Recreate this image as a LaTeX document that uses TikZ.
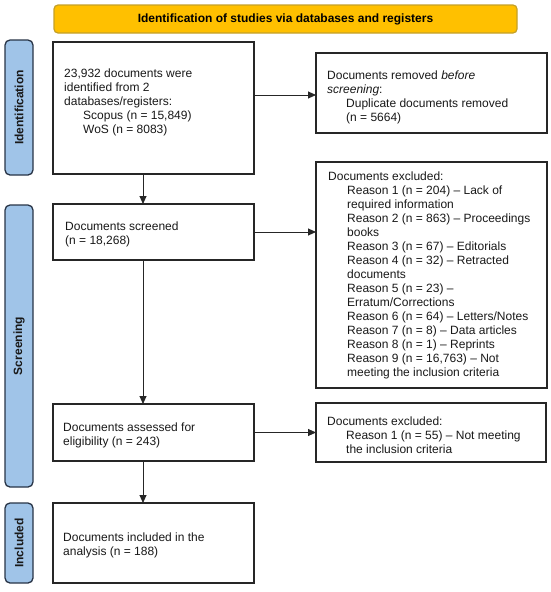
\documentclass[tikz,border=0pt]{standalone}
\usepackage{fontspec}
\setmainfont{Liberation Sans}
\usetikzlibrary{arrows.meta,calc}
\definecolor{bannerfill}{RGB}{255,192,0}
\definecolor{bannerdraw}{RGB}{196,160,40}
\definecolor{barfill}{RGB}{160,196,232}
\definecolor{bardraw}{RGB}{40,52,70}
\definecolor{txtcol}{RGB}{25,25,25}
\newcommand{\myind}{\hspace*{19pt}}
\begin{document}
\begin{tikzpicture}[x=1pt,y=-1pt,
  boxnode/.style={draw=black!85,line width=1.3pt,fill=white,inner sep=0pt,outer sep=0pt,rectangle},
  txt/.style={anchor=north west,align=left,inner sep=0pt,text=txtcol,font=\fontsize{12}{14}\selectfont},
  barnode/.style={draw=bardraw,fill=barfill,line width=1.3pt,rounded corners=5pt,inner sep=0pt,outer sep=0pt,minimum width=28pt},
  bartxt/.style={rotate=90,font=\bfseries\fontsize{12}{14}\selectfont,text=black!90},
  arr/.style={-{Triangle[length=8pt,width=7pt]},line width=0.9pt,black!85}]
\useasboundingbox (0,0) rectangle (550,592);
% banner
\node[draw=bannerdraw,fill=bannerfill,line width=1.2pt,rounded corners=4pt,minimum width=463pt,minimum height=28pt,inner sep=0pt,font=\bfseries\fontsize{12}{14}\selectfont] (banner) at (285.5,19) {Identification of studies via databases and registers};
% side bars
\node[barnode,minimum height=135pt] (barI) at (19,107.5) {};
\node[bartxt] (barIt) at (barI.center) {Identification};
\node[barnode,minimum height=282pt] (barS) at (19,346) {};
\node[bartxt] (barSt) at (barS.center) {Screening};
\node[barnode,minimum height=80pt] (barC) at (19,543) {};
\node[bartxt] (barCt) at (barC.center) {Included};
% boxes
\node[boxnode,minimum width=201pt,minimum height=132pt] (b1) at (153.5,108) {};
\node[boxnode,minimum width=231pt,minimum height=80pt] (rem) at (431.5,93) {};
\node[boxnode,minimum width=201pt,minimum height=56pt] (scr) at (153.5,232) {};
\node[boxnode,minimum width=231pt,minimum height=226pt] (exc) at (431.5,275) {};
\node[boxnode,minimum width=201pt,minimum height=57pt] (elig) at (153.5,432.5) {};
\node[boxnode,minimum width=230pt,minimum height=59pt] (exc2) at (431,432.5) {};
\node[boxnode,minimum width=201pt,minimum height=80pt] (incl) at (153.5,543) {};
% texts
\node[txt] (b1t) at ($(b1.north west)+(11,27)$) {23,932 documents were\\identified from 2\\databases/registers:\\\myind Scopus (n = 15,849)\\\myind WoS (n = 8083)};
\node[txt] (remt) at ($(rem.north west)+(11,18)$) {Documents removed \textit{before}\\\textit{screening}:\\\myind Duplicate documents removed\\\myind (n = 5664)};
\node[txt] (scrt) at ($(scr.north west)+(12,18)$) {Documents screened\\(n = 18,268)};
\node[txt] (exct) at ($(exc.north west)+(12,10)$) {Documents excluded:\\
\myind Reason 1 (n = 204) – Lack of\\
\myind required information\\
\myind Reason 2 (n = 863) – Proceedings\\
\myind books\\
\myind Reason 3 (n = 67) – Editorials\\
\myind Reason 4 (n = 32) – Retracted\\
\myind documents\\
\myind Reason 5 (n = 23) –\\
\myind Erratum/Corrections\\
\myind Reason 6 (n = 64) – Letters/Notes\\
\myind Reason 7 (n = 8) – Data articles\\
\myind Reason 8 (n = 1) – Reprints\\
\myind Reason 9 (n = 16,763) – Not\\
\myind meeting the inclusion criteria};
\node[txt] (eligt) at ($(elig.north west)+(10,19)$) {Documents assessed for\\eligibility (n = 243)};
\node[txt] (exc2t) at ($(exc2.north west)+(11,14)$) {Documents excluded:\\\myind Reason 1 (n = 55) – Not meeting\\\myind the inclusion criteria};
\node[txt] (inclt) at ($(incl.north west)+(10,30)$) {Documents included in the\\analysis (n = 188)};
% arrows
\coordinate (ax) at (143,0);
\coordinate (ay) at (0,95);
\draw[arr] (b1.south -| ax) -- (scr.north -| ax);
\draw[arr] (scr.south -| ax) -- (elig.north -| ax);
\draw[arr] (elig.south -| ax) -- (incl.north -| ax);
\draw[arr] (b1.east |- ay) -- (rem.west |- ay);
\draw[arr] (scr.east) -- (exc.west |- scr.east);
\draw[arr] (elig.east) -- (exc2.west |- elig.east);
\end{tikzpicture}
\end{document}
